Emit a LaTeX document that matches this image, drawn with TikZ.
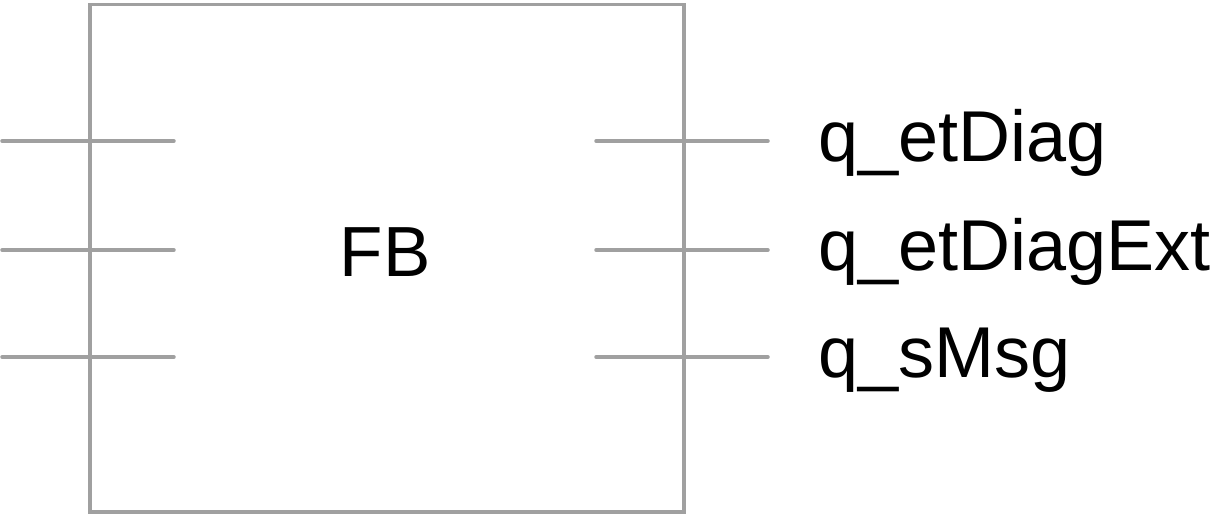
\documentclass[tikz,border=0pt]{standalone}
\usepackage{fontspec}
\setmainfont{Liberation Sans}
\begin{document}
\begin{tikzpicture}[x=1bp,y=-1bp,
  fbline/.style={draw=fbgray,line width=3.5bp,line cap=round},
  lbl/.style={anchor=base west,inner sep=0pt,font=\fontsize{72bp}{86bp}\selectfont}]
\definecolor{fbgray}{HTML}{A0A0A0}
\useasboundingbox (0,0) rectangle (1212,516);
\node[fbline,draw,line cap=butt,minimum width=594bp,minimum height=507bp,inner sep=0pt,anchor=north west] (box) at (88,3) {};
\node[anchor=base,inner sep=0pt,font=\fontsize{71bp}{85bp}\selectfont] (fb) at (385,277) {FB};
\foreach \i/\y in {1/141,2/250,3/357}{
  \coordinate (l\i a) at (2,\y);
  \coordinate (l\i b) at (174,\y);
  \coordinate (r\i a) at (596,\y);
  \coordinate (r\i b) at (768,\y);
  \draw[fbline] (l\i a) -- (l\i b);
  \draw[fbline] (r\i a) -- (r\i b);
}
\node[lbl] (q1) at (818,162) {q\_etDiag};
\node[lbl] (q2) at (818,271) {q\_etDiagExt};
\node[lbl] (q3) at (818,378) {q\_sMsg};
\end{tikzpicture}
\end{document}
